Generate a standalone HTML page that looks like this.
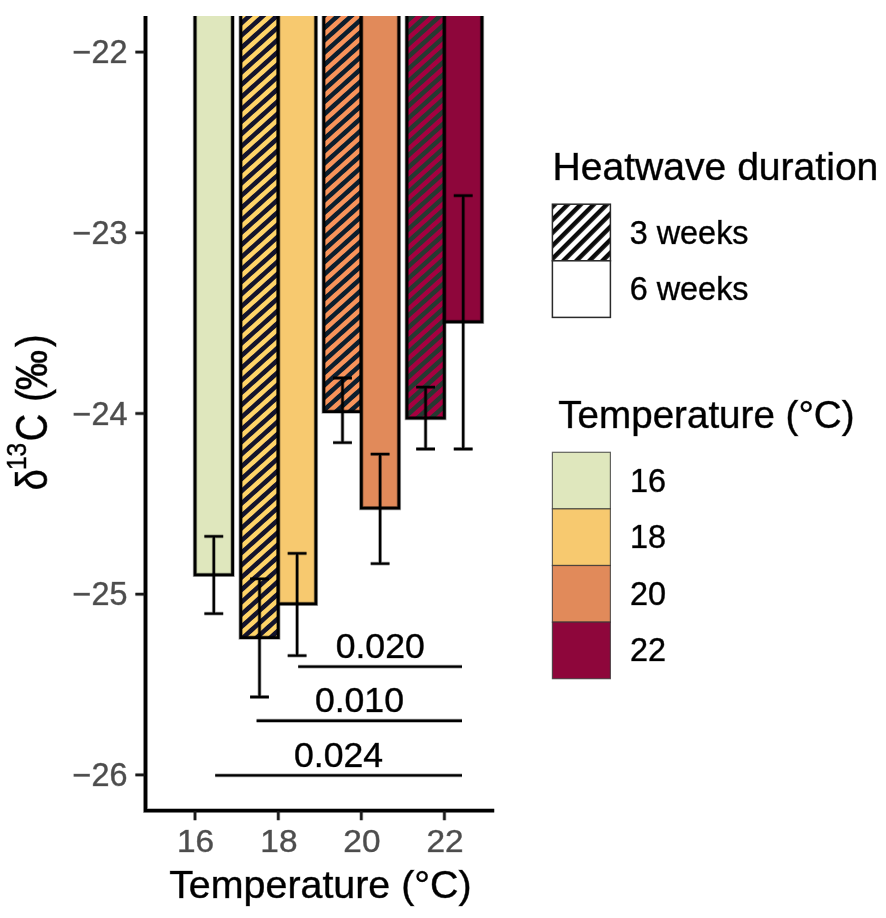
<!DOCTYPE html>
<html lang="en"><head><meta charset="utf-8"><title>δ13C by temperature and heatwave duration</title>
<style>html,body{margin:0;padding:0;background:#fff}body{width:886px;height:918px;overflow:hidden}svg{display:block}text{font-family:"Liberation Sans",Arial,Helvetica,sans-serif}</style>
</head><body>
<svg width="886" height="918" viewBox="0 0 886 918">
<defs>
<pattern id="h18" patternUnits="userSpaceOnUse" width="40" height="9.157" patternTransform="translate(242.3,311.85) rotate(-41.987) translate(0,-2.289)"><rect x="0" y="0" width="40" height="9.157" fill="#14142C"/><rect x="0" y="0" width="40" height="4.579" fill="#FFD468"/></pattern>
<pattern id="h20" patternUnits="userSpaceOnUse" width="40" height="9.157" patternTransform="translate(325.6,316.3) rotate(-41.987) translate(0,-2.289)"><rect x="0" y="0" width="40" height="9.157" fill="#0C1E2E"/><rect x="0" y="0" width="40" height="4.579" fill="#F8935A"/></pattern>
<pattern id="h22" patternUnits="userSpaceOnUse" width="40" height="9.157" patternTransform="translate(409.6,74.1) rotate(-41.987) translate(0,-2.289)"><rect x="0" y="0" width="40" height="9.157" fill="#263A32"/><rect x="0" y="0" width="40" height="4.579" fill="#A60040"/></pattern>
<pattern id="hl" patternUnits="userSpaceOnUse" width="40" height="9.192" patternTransform="translate(555.2,204) rotate(-45) translate(0,-2.206)"><rect x="0" y="0" width="40" height="9.192" fill="#fff"/><rect x="0" y="0" width="40" height="4.412" fill="#0a0a0a"/></pattern>
<clipPath id="panel"><rect x="140" y="16" width="360" height="796"/></clipPath>
</defs>
<rect width="886" height="918" fill="#fff"/>
<g clip-path="url(#panel)">
<rect x="195.00" y="0" width="37.60" height="574.90" fill="#DFE7BD"/>
<path d="M195.00 0V574.90H232.60V0" fill="none" stroke="#000" stroke-width="4.30" stroke-opacity="0.35"/>
<path d="M195.00 0V574.90H232.60V0" fill="none" stroke="#000" stroke-width="2.8"/>
<rect x="240.70" y="0" width="37.60" height="637.70" fill="url(#h18)"/>
<path d="M240.70 0V637.70H278.30V0" fill="none" stroke="#000" stroke-width="4.30" stroke-opacity="0.35"/>
<path d="M240.70 0V637.70H278.30V0" fill="none" stroke="#000" stroke-width="2.8"/>
<rect x="278.30" y="0" width="37.60" height="603.90" fill="#F7C96F"/>
<path d="M278.30 0V603.90H315.90V0" fill="none" stroke="#000" stroke-width="4.30" stroke-opacity="0.35"/>
<path d="M278.30 0V603.90H315.90V0" fill="none" stroke="#000" stroke-width="2.8"/>
<rect x="323.70" y="0" width="37.60" height="411.70" fill="url(#h20)"/>
<path d="M323.70 0V411.70H361.30V0" fill="none" stroke="#000" stroke-width="4.30" stroke-opacity="0.35"/>
<path d="M323.70 0V411.70H361.30V0" fill="none" stroke="#000" stroke-width="2.8"/>
<rect x="361.30" y="0" width="37.60" height="508.10" fill="#E18A5A"/>
<path d="M361.30 0V508.10H398.90V0" fill="none" stroke="#000" stroke-width="4.30" stroke-opacity="0.35"/>
<path d="M361.30 0V508.10H398.90V0" fill="none" stroke="#000" stroke-width="2.8"/>
<rect x="406.80" y="0" width="37.60" height="418.20" fill="url(#h22)"/>
<path d="M406.80 0V418.20H444.40V0" fill="none" stroke="#000" stroke-width="4.30" stroke-opacity="0.35"/>
<path d="M406.80 0V418.20H444.40V0" fill="none" stroke="#000" stroke-width="2.8"/>
<rect x="444.40" y="0" width="37.60" height="321.90" fill="#8E063B"/>
<path d="M444.40 0V321.90H482.00V0" fill="none" stroke="#000" stroke-width="4.30" stroke-opacity="0.35"/>
<path d="M444.40 0V321.90H482.00V0" fill="none" stroke="#000" stroke-width="2.8"/>
</g>
<path d="M204.40 536.3H223.20M204.40 613.7H223.20M213.80 536.3V613.7" fill="none" stroke="#000" stroke-width="3.80" stroke-opacity="0.35"/>
<path d="M204.40 536.3H223.20M204.40 613.7H223.20M213.80 536.3V613.7" fill="none" stroke="#000" stroke-width="2.3"/>
<path d="M250.10 578.9H268.90M250.10 697.0H268.90M259.50 578.9V697.0" fill="none" stroke="#000" stroke-width="3.80" stroke-opacity="0.35"/>
<path d="M250.10 578.9H268.90M250.10 697.0H268.90M259.50 578.9V697.0" fill="none" stroke="#000" stroke-width="2.3"/>
<path d="M287.70 553.4H306.50M287.70 655.6H306.50M297.10 553.4V655.6" fill="none" stroke="#000" stroke-width="3.80" stroke-opacity="0.35"/>
<path d="M287.70 553.4H306.50M287.70 655.6H306.50M297.10 553.4V655.6" fill="none" stroke="#000" stroke-width="2.3"/>
<path d="M333.10 378.0H351.90M333.10 442.7H351.90M342.50 378.0V442.7" fill="none" stroke="#000" stroke-width="3.80" stroke-opacity="0.35"/>
<path d="M333.10 378.0H351.90M333.10 442.7H351.90M342.50 378.0V442.7" fill="none" stroke="#000" stroke-width="2.3"/>
<path d="M370.70 454.2H389.50M370.70 563.7H389.50M380.10 454.2V563.7" fill="none" stroke="#000" stroke-width="3.80" stroke-opacity="0.35"/>
<path d="M370.70 454.2H389.50M370.70 563.7H389.50M380.10 454.2V563.7" fill="none" stroke="#000" stroke-width="2.3"/>
<path d="M416.20 387.2H435.00M416.20 449.0H435.00M425.60 387.2V449.0" fill="none" stroke="#000" stroke-width="3.80" stroke-opacity="0.35"/>
<path d="M416.20 387.2H435.00M416.20 449.0H435.00M425.60 387.2V449.0" fill="none" stroke="#000" stroke-width="2.3"/>
<path d="M453.80 195.7H472.60M453.80 449.0H472.60M463.20 195.7V449.0" fill="none" stroke="#000" stroke-width="3.80" stroke-opacity="0.35"/>
<path d="M453.80 195.7H472.60M453.80 449.0H472.60M463.20 195.7V449.0" fill="none" stroke="#000" stroke-width="2.3"/>
<path d="M298.2 666.6H462" fill="none" stroke="#000" stroke-width="3.90" stroke-opacity="0.35"/>
<path d="M298.2 666.6H462" fill="none" stroke="#000" stroke-width="2.4"/>
<path d="M256.6 720.7H462" fill="none" stroke="#000" stroke-width="3.90" stroke-opacity="0.35"/>
<path d="M256.6 720.7H462" fill="none" stroke="#000" stroke-width="2.4"/>
<path d="M215.2 775.4H462" fill="none" stroke="#000" stroke-width="3.90" stroke-opacity="0.35"/>
<path d="M215.2 775.4H462" fill="none" stroke="#000" stroke-width="2.4"/>
<path d="M145.5 16V810.6H494.2" fill="none" stroke="#000" stroke-width="4.90" stroke-opacity="0.35"/>
<path d="M145.5 16V810.6H494.2" fill="none" stroke="#000" stroke-width="3.4"/>
<path d="M135.4 52.10H144.5" fill="none" stroke="#1a1a1a" stroke-width="3.90" stroke-opacity="0.35"/>
<path d="M135.4 52.10H144.5" fill="none" stroke="#1a1a1a" stroke-width="2.4"/>
<path d="M135.4 232.80H144.5" fill="none" stroke="#1a1a1a" stroke-width="3.90" stroke-opacity="0.35"/>
<path d="M135.4 232.80H144.5" fill="none" stroke="#1a1a1a" stroke-width="2.4"/>
<path d="M135.4 413.50H144.5" fill="none" stroke="#1a1a1a" stroke-width="3.90" stroke-opacity="0.35"/>
<path d="M135.4 413.50H144.5" fill="none" stroke="#1a1a1a" stroke-width="2.4"/>
<path d="M135.4 594.20H144.5" fill="none" stroke="#1a1a1a" stroke-width="3.90" stroke-opacity="0.35"/>
<path d="M135.4 594.20H144.5" fill="none" stroke="#1a1a1a" stroke-width="2.4"/>
<path d="M135.4 774.90H144.5" fill="none" stroke="#1a1a1a" stroke-width="3.90" stroke-opacity="0.35"/>
<path d="M135.4 774.90H144.5" fill="none" stroke="#1a1a1a" stroke-width="2.4"/>
<path d="M195.0 811V820.2" fill="none" stroke="#1a1a1a" stroke-width="3.90" stroke-opacity="0.35"/>
<path d="M195.0 811V820.2" fill="none" stroke="#1a1a1a" stroke-width="2.4"/>
<path d="M278.3 811V820.2" fill="none" stroke="#1a1a1a" stroke-width="3.90" stroke-opacity="0.35"/>
<path d="M278.3 811V820.2" fill="none" stroke="#1a1a1a" stroke-width="2.4"/>
<path d="M361.3 811V820.2" fill="none" stroke="#1a1a1a" stroke-width="3.90" stroke-opacity="0.35"/>
<path d="M361.3 811V820.2" fill="none" stroke="#1a1a1a" stroke-width="2.4"/>
<path d="M444.4 811V820.2" fill="none" stroke="#1a1a1a" stroke-width="3.90" stroke-opacity="0.35"/>
<path d="M444.4 811V820.2" fill="none" stroke="#1a1a1a" stroke-width="2.4"/>
<rect x="552.4" y="204.2" width="58" height="56.6" fill="url(#hl)" stroke="#2a2a2a" stroke-width="1.5"/>
<rect x="552.4" y="260.8" width="58" height="56.6" fill="#fff" stroke="#2a2a2a" stroke-width="1.5"/>
<rect x="552.4" y="452.30" width="58" height="56.6" fill="#DFE7BD" stroke="#333" stroke-opacity="0.75" stroke-width="1.2"/>
<rect x="552.4" y="508.90" width="58" height="56.6" fill="#F7C96F" stroke="#333" stroke-opacity="0.75" stroke-width="1.2"/>
<rect x="552.4" y="565.50" width="58" height="56.6" fill="#E18A5A" stroke="#333" stroke-opacity="0.75" stroke-width="1.2"/>
<rect x="552.4" y="622.10" width="58" height="56.6" fill="#8E063B" stroke="#333" stroke-opacity="0.75" stroke-width="1.2"/>
<text transform="translate(127.5,63.2) scale(1.0,1)" font-size="32.4" fill="#4d4d4d" stroke="#4d4d4d" stroke-width="0.65" stroke-opacity="0.6" text-anchor="end">−22</text>
<text transform="translate(127.5,243.9) scale(1.0,1)" font-size="32.4" fill="#4d4d4d" stroke="#4d4d4d" stroke-width="0.65" stroke-opacity="0.6" text-anchor="end">−23</text>
<text transform="translate(127.5,424.6) scale(1.0,1)" font-size="32.4" fill="#4d4d4d" stroke="#4d4d4d" stroke-width="0.65" stroke-opacity="0.6" text-anchor="end">−24</text>
<text transform="translate(127.5,605.3) scale(1.0,1)" font-size="32.4" fill="#4d4d4d" stroke="#4d4d4d" stroke-width="0.65" stroke-opacity="0.6" text-anchor="end">−25</text>
<text transform="translate(127.5,786.0) scale(1.0,1)" font-size="32.4" fill="#4d4d4d" stroke="#4d4d4d" stroke-width="0.65" stroke-opacity="0.6" text-anchor="end">−26</text>
<text transform="translate(195.6,852.3) scale(1.07,1)" font-size="31.2" fill="#4d4d4d" stroke="#4d4d4d" stroke-width="0.65" stroke-opacity="0.6" text-anchor="middle">16</text>
<text transform="translate(278.90000000000003,852.3) scale(1.07,1)" font-size="31.2" fill="#4d4d4d" stroke="#4d4d4d" stroke-width="0.65" stroke-opacity="0.6" text-anchor="middle">18</text>
<text transform="translate(361.90000000000003,852.3) scale(1.07,1)" font-size="31.2" fill="#4d4d4d" stroke="#4d4d4d" stroke-width="0.65" stroke-opacity="0.6" text-anchor="middle">20</text>
<text transform="translate(445.0,852.3) scale(1.07,1)" font-size="31.2" fill="#4d4d4d" stroke="#4d4d4d" stroke-width="0.65" stroke-opacity="0.6" text-anchor="middle">22</text>
<text transform="translate(320.4,898.0) scale(1.0,1)" font-size="39.4" fill="#000" stroke="#000" stroke-width="0.65" stroke-opacity="0.6" text-anchor="middle">Temperature (°C)</text>
<text transform="translate(552.5,180.1) scale(1.0,1)" font-size="39.1" fill="#000" stroke="#000" stroke-width="0.65" stroke-opacity="0.6" text-anchor="start">Heatwave duration</text>
<text transform="translate(558.3,428.0) scale(1.0,1)" font-size="38.6" fill="#000" stroke="#000" stroke-width="0.65" stroke-opacity="0.6" text-anchor="start">Temperature (°C)</text>
<text transform="translate(629.7,243.8) scale(1.0,1)" font-size="32.4" fill="#000" stroke="#000" stroke-width="0.65" stroke-opacity="0.6" text-anchor="start">3 weeks</text>
<text transform="translate(629.7,300.4) scale(1.0,1)" font-size="32.4" fill="#000" stroke="#000" stroke-width="0.65" stroke-opacity="0.6" text-anchor="start">6 weeks</text>
<text transform="translate(630,491.5) scale(1.0,1)" font-size="32.4" fill="#000" stroke="#000" stroke-width="0.65" stroke-opacity="0.6" text-anchor="start">16</text>
<text transform="translate(630,548.1) scale(1.0,1)" font-size="32.4" fill="#000" stroke="#000" stroke-width="0.65" stroke-opacity="0.6" text-anchor="start">18</text>
<text transform="translate(630,604.7) scale(1.0,1)" font-size="32.4" fill="#000" stroke="#000" stroke-width="0.65" stroke-opacity="0.6" text-anchor="start">20</text>
<text transform="translate(630,661.3) scale(1.0,1)" font-size="32.4" fill="#000" stroke="#000" stroke-width="0.65" stroke-opacity="0.6" text-anchor="start">22</text>
<text transform="translate(380.2,657.9) scale(1.0,1)" font-size="35.6" fill="#000" stroke="#000" stroke-width="0.65" stroke-opacity="0.6" text-anchor="middle">0.020</text>
<text transform="translate(359.4,712.0) scale(1.0,1)" font-size="35.6" fill="#000" stroke="#000" stroke-width="0.65" stroke-opacity="0.6" text-anchor="middle">0.010</text>
<text transform="translate(338.6,766.9) scale(1.0,1)" font-size="35.6" fill="#000" stroke="#000" stroke-width="0.65" stroke-opacity="0.6" text-anchor="middle">0.024</text>
<text transform="translate(47,488.5) scale(1.16,1) rotate(-90)" font-size="38" fill="#000" stroke="#000" stroke-width="0.65" stroke-opacity="0.6"><tspan x="-1.7">δ</tspan><tspan x="18.5" dy="-18" font-size="24.5">13</tspan><tspan x="47.3" dy="18">C</tspan><tspan x="86.8">(</tspan><tspan x="141.55">)</tspan></text>
<text transform="translate(47,390.2) scale(1.16,1.06) rotate(-90)" font-size="38" fill="#000" stroke="#000" stroke-width="0.65" stroke-opacity="0.6">‰</text>
</svg></body></html>
